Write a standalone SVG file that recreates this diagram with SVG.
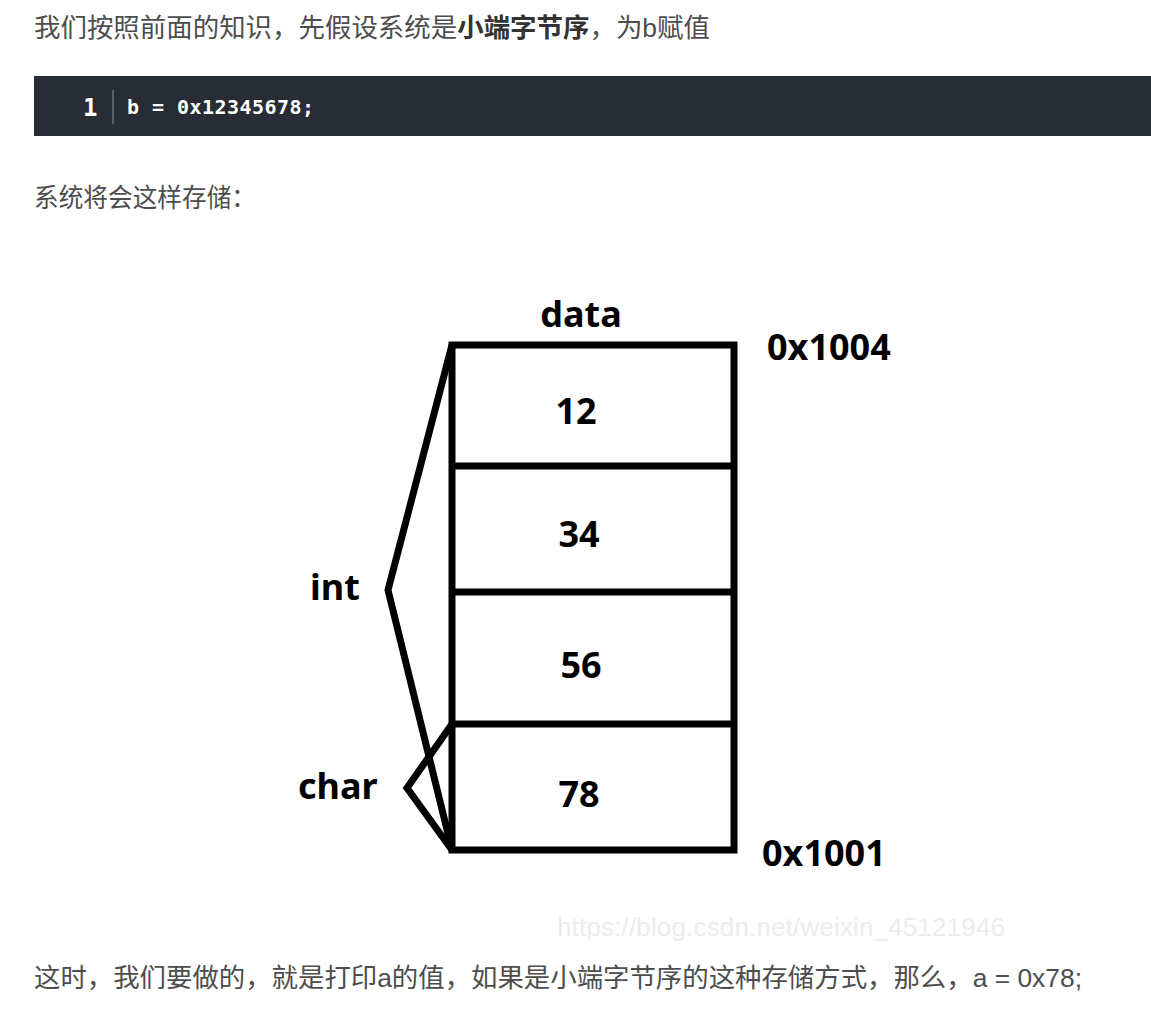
<svg xmlns="http://www.w3.org/2000/svg" width="1151" height="1020" viewBox="0 0 1151 1020">
<style>
.p{font-family:"Liberation Sans","Noto Sans CJK SC",sans-serif;font-size:26px;fill:#4d4d4d}
.b{font-weight:bold;fill:#333}
.d{font-family:"Noto Sans","Open Sans",sans-serif;font-weight:bold;font-size:36px;fill:#000}
.ln{fill:none;stroke:#000;stroke-width:7;stroke-linejoin:miter}
.br{fill:none;stroke:#000;stroke-width:7;stroke-linejoin:miter}
.code{font-family:"DejaVu Sans Mono","Liberation Mono",monospace;font-size:20px;fill:#fff}
</style>
<rect width="1151" height="1020" fill="#fff"/>
<text class="p" x="34" y="37" textLength="676" lengthAdjust="spacingAndGlyphs">我们按照前面的知识，先假设系统是<tspan class="b">小端字节序</tspan>，为b赋值</text>
<g id="code">
<rect x="34" y="76" width="1117" height="60" fill="#282c34"/>
<text class="code" x="83" y="116" style="font-size:24px;font-weight:bold">1</text>
<line x1="113" y1="90" x2="113" y2="124" stroke="#8a8f99" stroke-width="1"/>
<text class="code" x="127" y="114" font-weight="bold" textLength="187">b = 0x12345678;</text>
</g>
<text class="p" x="34" y="207" textLength="222" lengthAdjust="spacingAndGlyphs">系统将会这样存储：</text>
<g id="memory">
<rect class="ln" x="452" y="345" width="282" height="505"/>
<line class="ln" x1="452" y1="466" x2="734" y2="466"/>
<line class="ln" x1="452" y1="592" x2="734" y2="592"/>
<line class="ln" x1="452" y1="724" x2="734" y2="724"/>
<text class="d" x="581" y="327" text-anchor="middle">data</text>
<text class="d" x="767" y="360">0x1004</text>
<text class="d" x="762" y="866">0x1001</text>
<text class="d" x="576" y="424" text-anchor="middle">12</text>
<text class="d" x="579" y="547" text-anchor="middle">34</text>
<text class="d" x="581" y="678" text-anchor="middle">56</text>
<text class="d" x="579" y="807" text-anchor="middle">78</text>
</g>
<g id="connectors">
<polyline class="br" points="452,345 388,590 452,850"/>
<polyline class="br" points="452,724 407,788 452,850"/>
</g>
<g id="labels">
<text class="d" x="310" y="600">int</text>
<text class="d" x="298" y="799">char</text>
</g>
<text x="557" y="936" font-family="Liberation Sans,Arial,sans-serif" font-size="26" fill="#ececec" textLength="448">https://blog.csdn.net/weixin_45121946</text>
<text class="p" x="34" y="987" textLength="1048" lengthAdjust="spacingAndGlyphs">这时，我们要做的，就是打印a的值，如果是小端字节序的这种存储方式，那么，a = 0x78;</text>
</svg>
